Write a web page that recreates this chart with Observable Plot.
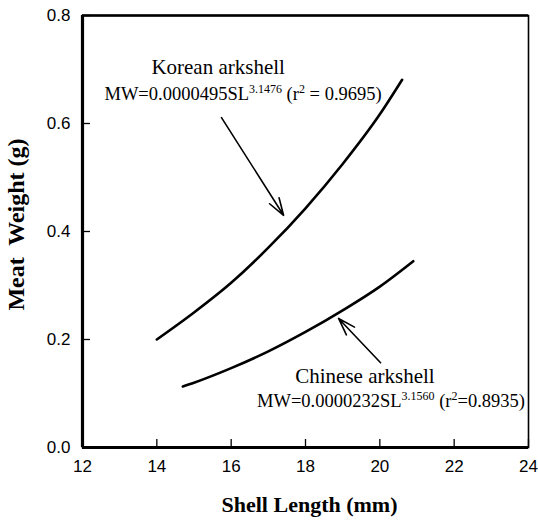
<!DOCTYPE html>
<html><head><meta charset="utf-8">
<script src="https://cdn.jsdelivr.net/npm/d3@7"></script>
<script src="https://cdn.jsdelivr.net/npm/@observablehq/plot@0.6"></script>
<style>body{margin:0;background:#fff}</style>
</head><body><div id="chart"></div>
<script>
// ---- data ----
const xTicks = [12, 14, 16, 18, 20, 22, 24];
const yTicks = [0, 0.2, 0.4, 0.6, 0.8];

const koreanSL = [14, 15, 16, 17, 18, 19, 20, 20.6];
const koreanMW = [0.200, 0.250, 0.305, 0.370, 0.443, 0.525, 0.617, 0.681];

const chineseSL = [14.7, 15, 16, 17, 18, 19, 20, 20.9];
const chineseMW = [0.113, 0.120, 0.147, 0.178, 0.214, 0.254, 0.298, 0.345];

const speciesNames = ["Korean arkshell", "Chinese arkshell"];
const nameX = [15.65, 19.6];
const nameY = [0.705, 0.131];
const formulaParts = [
  ["MW=0.0000495SL", "3.1476", " (r", "2", " = 0.9695)"],
  ["MW=0.0000232SL", "3.1560", " (r", "2", "=0.8935)"]
];
const formulaX = [16.32, 20.3];
const formulaY = [0.654, 0.086];

// arrows: tail -> head (data units)
const arrowX1 = [15.74, 20.02];
const arrowY1 = [0.611, 0.157];
const arrowX2 = [17.41, 18.89];
const arrowY2 = [0.430, 0.239];

const xTitle = "Shell Length (mm)";
const yTitle = "Meat\u00A0 Weight (g)";

// ---- build tables ----
const korean = koreanSL.map((x, i) => ({x, y: koreanMW[i]}));
const chinese = chineseSL.map((x, i) => ({x, y: chineseMW[i]}));
const names = speciesNames.map((t, i) => ({t, x: nameX[i], y: nameY[i]}));
const formulas = formulaParts.map((p, i) => ({t: p.join(""), parts: p, x: formulaX[i], y: formulaY[i]}));
const arrows = arrowX1.map((x1, i) => ({x1, y1: arrowY1[i], x2: arrowX2[i], y2: arrowY2[i]}));

const xDomain = [12, 24], yDomain = [0, 0.8];
const W = 538, H = 521, mL = 82, mR = 10, mT = 15, mB = 74;
// inward tick length of 8px expressed in data units
const tickLenX = 8 * (xDomain[1] - xDomain[0]) / (W - mL - mR);
const tickLenY = 8 * (yDomain[1] - yDomain[0]) / (H - mT - mB);

const serif = "'Liberation Serif', 'Times New Roman', serif";

const plot = Plot.plot({
  width: W,
  height: H,
  marginLeft: mL,
  marginRight: mR,
  marginTop: mT,
  marginBottom: mB,
  style: {fontFamily: "'Liberation Sans', Arial, sans-serif", fontSize: "17px", color: "#000", background: "#fff"},
  x: {domain: xDomain, ticks: xTicks, tickSize: 0, tickPadding: 12, tickFormat: d => String(d), label: null},
  y: {domain: yDomain, ticks: yTicks, tickSize: 0, tickPadding: 12, tickFormat: d3.format(".1f"), label: null},
  marks: [
    Plot.frame({stroke: "#000", strokeWidth: 1.6}),
    Plot.ruleX(xTicks, {x: d => d, y1: yDomain[0], y2: yDomain[0] + tickLenY, stroke: "#000", strokeWidth: 1.3}),
    Plot.ruleY(yTicks, {y: d => d, x1: xDomain[0], x2: xDomain[0] + tickLenX, stroke: "#000", strokeWidth: 1.3}),
    Plot.ruleX([xDomain[0]], {stroke: "#000", strokeWidth: 3.2}),
    Plot.ruleY([yDomain[0]], {stroke: "#000", strokeWidth: 3.2}),
    Plot.ruleY([yDomain[1]], {stroke: "#000", strokeWidth: 2.6}),
    Plot.line(korean, {x: "x", y: "y", curve: "monotone-x", stroke: "#000", strokeWidth: 2.6}),
    Plot.line(chinese, {x: "x", y: "y", curve: "monotone-x", stroke: "#000", strokeWidth: 2.6}),
    Plot.arrow(arrows, {x1: "x1", y1: "y1", x2: "x2", y2: "y2", stroke: "#000", strokeWidth: 1.6, headLength: 17, headAngle: 36}),
    Plot.text(names, {x: "x", y: "y", text: "t", fontFamily: serif, fontSize: 21, fill: "#000", textAnchor: "middle"}),
    Plot.text(formulas, {x: "x", y: "y", text: "t", fontFamily: serif, fontSize: 18.5, fill: "#000", textAnchor: "middle"}),
    Plot.text([xTitle], {text: d => d, frameAnchor: "bottom", dx: 4, dy: 64, fontFamily: serif, fontWeight: "bold", fontSize: 22, fill: "#000"}),
    Plot.text([yTitle], {text: d => d, frameAnchor: "left", textAnchor: "middle", rotate: -90, dx: -66, dy: -7, fontFamily: serif, fontWeight: "bold", fontSize: 24, fill: "#000"})
  ]
});

// superscripts in the formulas
const formulaStrings = formulas.map(f => f.t);
d3.select(plot).selectAll("text").each(function() {
  const i = formulaStrings.indexOf(this.textContent);
  if (i < 0) return;
  const parts = formulas[i].parts;
  const el = d3.select(this);
  el.text(null);
  parts.forEach((p, j) => {
    const ts = el.append("tspan").text(p);
    if (j % 2 === 1) ts.attr("font-size", 12).attr("baseline-shift", "60%");
  });
});

document.getElementById("chart").appendChild(plot);
</script>
</body></html>
